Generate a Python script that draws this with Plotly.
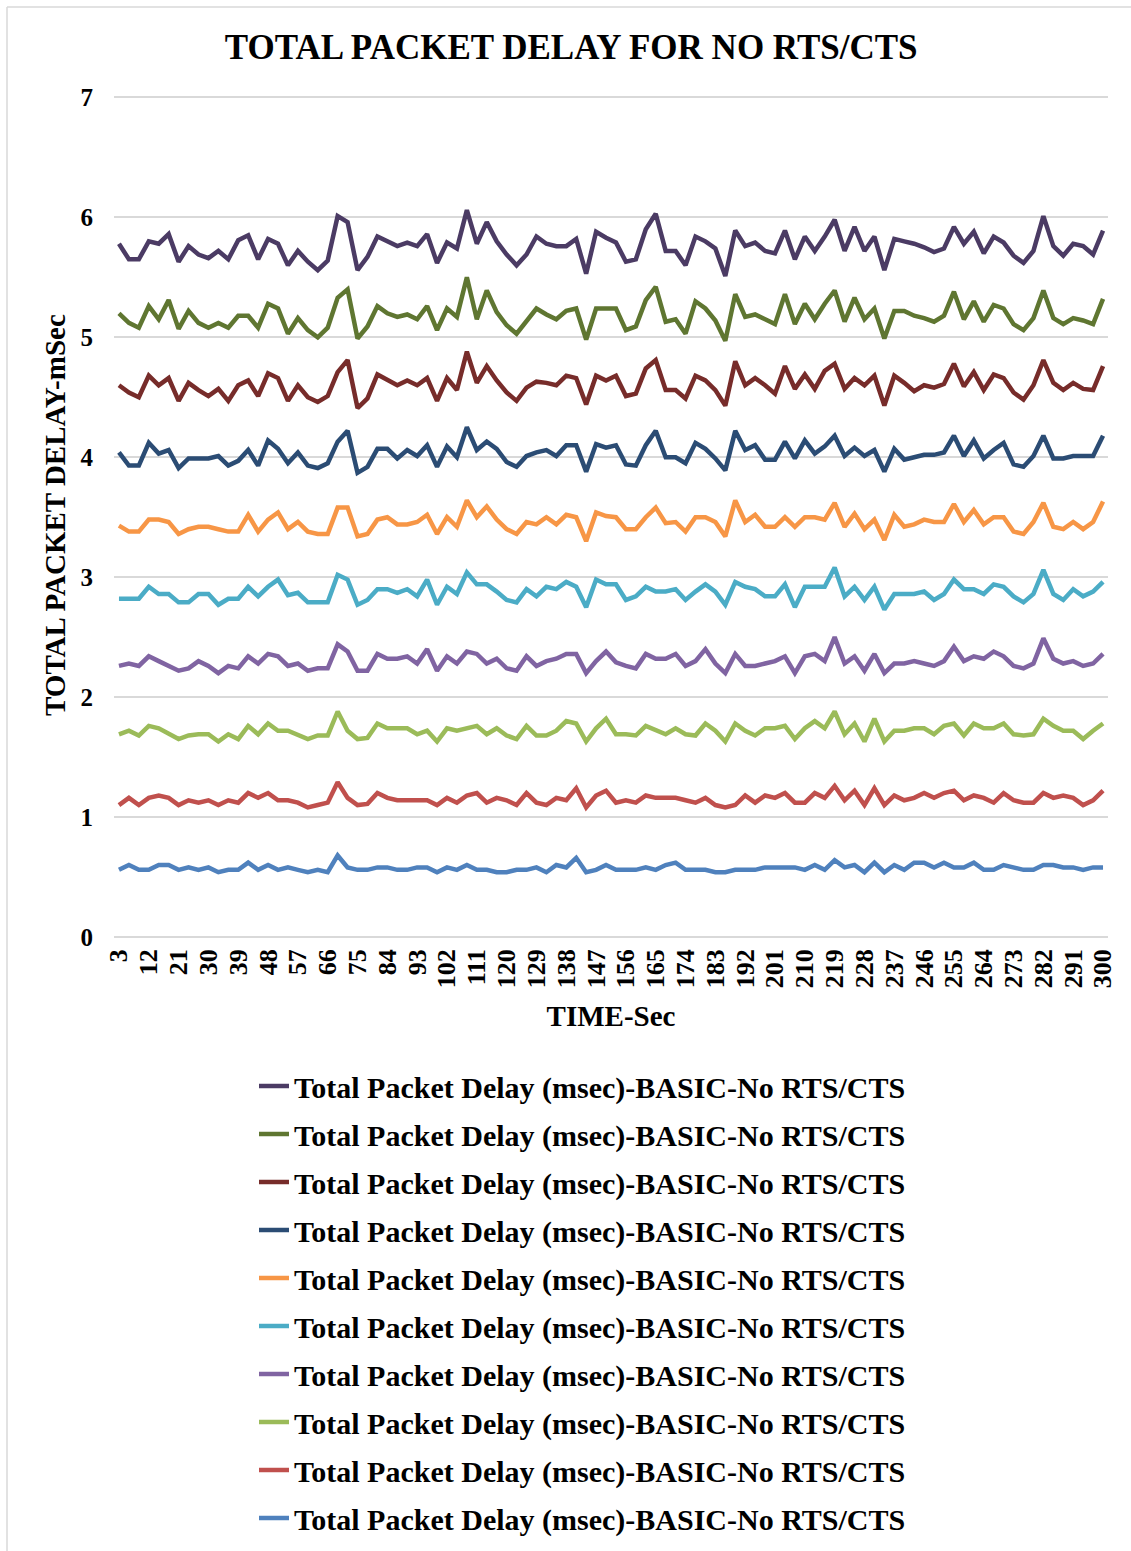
import plotly.graph_objects as go

# Simulation time (sec), one sample every 3 s
time_sec = list(range(3, 303, 3))
tick_labels = [str(t) for t in time_sec[::3]]

series_name = "Total Packet Delay (msec)-BASIC-No RTS/CTS"

delay_1 = [5.78, 5.65, 5.65, 5.80, 5.78, 5.86, 5.63, 5.76, 5.69, 5.66, 5.72, 5.65, 5.81, 5.85, 5.65, 5.82, 5.78, 5.60, 5.72, 5.63, 5.56, 5.64, 6.01, 5.96, 5.56,
           5.67, 5.84, 5.80, 5.76, 5.79, 5.76, 5.86, 5.62, 5.79, 5.74, 6.06, 5.78, 5.96, 5.80, 5.69, 5.60, 5.69, 5.84, 5.78, 5.76, 5.76, 5.82, 5.53, 5.88, 5.83,
           5.79, 5.63, 5.65, 5.90, 6.03, 5.72, 5.72, 5.60, 5.84, 5.80, 5.74, 5.51, 5.89, 5.76, 5.79, 5.72, 5.70, 5.89, 5.65, 5.84, 5.72, 5.84, 5.98, 5.72, 5.92,
           5.72, 5.84, 5.56, 5.82, 5.80, 5.78, 5.75, 5.71, 5.74, 5.92, 5.78, 5.88, 5.70, 5.84, 5.79, 5.68, 5.62, 5.72, 6.01, 5.76, 5.68, 5.78, 5.76, 5.69, 5.89]

delay_2 = [5.20, 5.12, 5.08, 5.26, 5.15, 5.31, 5.07, 5.22, 5.12, 5.08, 5.12, 5.08, 5.18, 5.18, 5.08, 5.28, 5.24, 5.03, 5.16, 5.06, 5.00, 5.08, 5.33, 5.40, 4.99,
           5.09, 5.26, 5.20, 5.17, 5.19, 5.15, 5.26, 5.06, 5.24, 5.17, 5.50, 5.15, 5.39, 5.21, 5.10, 5.03, 5.14, 5.24, 5.19, 5.15, 5.22, 5.24, 4.98, 5.24, 5.24,
           5.24, 5.06, 5.09, 5.31, 5.42, 5.13, 5.15, 5.03, 5.30, 5.24, 5.14, 4.97, 5.36, 5.17, 5.19, 5.15, 5.11, 5.36, 5.11, 5.28, 5.15, 5.28, 5.39, 5.13, 5.33,
           5.15, 5.24, 4.99, 5.22, 5.22, 5.18, 5.16, 5.13, 5.18, 5.38, 5.15, 5.30, 5.13, 5.27, 5.24, 5.11, 5.06, 5.16, 5.39, 5.16, 5.11, 5.16, 5.14, 5.11, 5.32]

delay_3 = [4.60, 4.54, 4.50, 4.68, 4.60, 4.66, 4.47, 4.62, 4.56, 4.51, 4.57, 4.47, 4.60, 4.64, 4.51, 4.70, 4.66, 4.47, 4.60, 4.50, 4.46, 4.51, 4.71, 4.81, 4.41,
           4.49, 4.69, 4.64, 4.60, 4.64, 4.60, 4.66, 4.47, 4.66, 4.56, 4.88, 4.62, 4.76, 4.64, 4.54, 4.47, 4.58, 4.63, 4.62, 4.60, 4.68, 4.66, 4.44, 4.68, 4.64,
           4.68, 4.51, 4.53, 4.74, 4.81, 4.56, 4.56, 4.49, 4.68, 4.64, 4.56, 4.43, 4.80, 4.60, 4.66, 4.60, 4.53, 4.76, 4.57, 4.69, 4.57, 4.72, 4.78, 4.57, 4.66,
           4.60, 4.68, 4.43, 4.68, 4.62, 4.55, 4.60, 4.58, 4.61, 4.78, 4.59, 4.71, 4.56, 4.69, 4.66, 4.54, 4.48, 4.60, 4.81, 4.62, 4.56, 4.62, 4.57, 4.56, 4.76]

delay_4 = [4.04, 3.93, 3.93, 4.12, 4.03, 4.06, 3.91, 3.99, 3.99, 3.99, 4.01, 3.93, 3.97, 4.06, 3.93, 4.14, 4.07, 3.95, 4.04, 3.93, 3.91, 3.95, 4.13, 4.22, 3.87,
           3.92, 4.07, 4.07, 3.99, 4.06, 4.01, 4.10, 3.92, 4.09, 4.00, 4.25, 4.06, 4.13, 4.07, 3.96, 3.92, 4.01, 4.04, 4.06, 4.01, 4.10, 4.10, 3.88, 4.11, 4.08,
           4.10, 3.94, 3.93, 4.10, 4.22, 4.00, 4.00, 3.95, 4.12, 4.07, 3.99, 3.89, 4.22, 4.06, 4.10, 3.98, 3.98, 4.13, 3.99, 4.14, 4.03, 4.09, 4.18, 4.01, 4.08,
           4.01, 4.06, 3.88, 4.07, 3.98, 4.00, 4.02, 4.02, 4.04, 4.18, 4.01, 4.14, 3.99, 4.06, 4.12, 3.94, 3.92, 4.01, 4.18, 3.99, 3.99, 4.01, 4.01, 4.01, 4.18]

delay_5 = [3.43, 3.38, 3.38, 3.48, 3.48, 3.46, 3.36, 3.40, 3.42, 3.42, 3.40, 3.38, 3.38, 3.52, 3.38, 3.48, 3.54, 3.40, 3.46, 3.38, 3.36, 3.36, 3.58, 3.58, 3.34,
           3.36, 3.48, 3.50, 3.44, 3.44, 3.46, 3.52, 3.36, 3.50, 3.42, 3.64, 3.50, 3.59, 3.48, 3.40, 3.36, 3.46, 3.44, 3.50, 3.44, 3.52, 3.50, 3.30, 3.54, 3.51,
           3.50, 3.40, 3.40, 3.50, 3.58, 3.45, 3.46, 3.38, 3.50, 3.50, 3.46, 3.34, 3.64, 3.46, 3.52, 3.42, 3.42, 3.50, 3.42, 3.50, 3.50, 3.48, 3.62, 3.42, 3.53,
           3.40, 3.48, 3.31, 3.52, 3.42, 3.44, 3.48, 3.46, 3.46, 3.61, 3.46, 3.56, 3.44, 3.50, 3.50, 3.38, 3.36, 3.46, 3.62, 3.42, 3.40, 3.46, 3.40, 3.46, 3.63]

delay_6 = [2.82, 2.82, 2.82, 2.92, 2.86, 2.86, 2.79, 2.79, 2.86, 2.86, 2.77, 2.82, 2.82, 2.92, 2.84, 2.92, 2.98, 2.85, 2.87, 2.79, 2.79, 2.79, 3.02, 2.98, 2.77,
           2.81, 2.90, 2.90, 2.87, 2.90, 2.84, 2.98, 2.77, 2.92, 2.86, 3.04, 2.94, 2.94, 2.88, 2.81, 2.79, 2.90, 2.84, 2.92, 2.90, 2.96, 2.92, 2.75, 2.98, 2.94,
           2.94, 2.81, 2.84, 2.92, 2.88, 2.88, 2.90, 2.81, 2.88, 2.94, 2.88, 2.77, 2.96, 2.92, 2.90, 2.84, 2.84, 2.94, 2.75, 2.92, 2.92, 2.92, 3.08, 2.84, 2.92,
           2.81, 2.92, 2.73, 2.86, 2.86, 2.86, 2.88, 2.81, 2.86, 2.98, 2.90, 2.90, 2.86, 2.94, 2.92, 2.84, 2.79, 2.86, 3.06, 2.86, 2.81, 2.90, 2.84, 2.88, 2.96]

delay_7 = [2.26, 2.28, 2.26, 2.34, 2.30, 2.26, 2.22, 2.24, 2.30, 2.26, 2.20, 2.26, 2.24, 2.34, 2.28, 2.36, 2.34, 2.26, 2.28, 2.22, 2.24, 2.24, 2.44, 2.38, 2.22,
           2.22, 2.36, 2.32, 2.32, 2.34, 2.28, 2.40, 2.22, 2.34, 2.28, 2.38, 2.36, 2.28, 2.32, 2.24, 2.22, 2.34, 2.26, 2.30, 2.32, 2.36, 2.36, 2.20, 2.30, 2.38,
           2.29, 2.26, 2.24, 2.36, 2.32, 2.32, 2.36, 2.26, 2.30, 2.40, 2.28, 2.20, 2.36, 2.26, 2.26, 2.28, 2.30, 2.34, 2.20, 2.34, 2.36, 2.30, 2.50, 2.28, 2.34,
           2.22, 2.36, 2.20, 2.28, 2.28, 2.30, 2.28, 2.26, 2.30, 2.42, 2.30, 2.34, 2.32, 2.38, 2.34, 2.26, 2.24, 2.28, 2.49, 2.32, 2.28, 2.30, 2.26, 2.28, 2.36]

delay_8 = [1.69, 1.72, 1.68, 1.76, 1.74, 1.69, 1.65, 1.68, 1.69, 1.69, 1.63, 1.69, 1.65, 1.76, 1.69, 1.78, 1.72, 1.72, 1.68, 1.65, 1.68, 1.68, 1.88, 1.72, 1.65,
           1.66, 1.78, 1.74, 1.74, 1.74, 1.69, 1.72, 1.63, 1.74, 1.72, 1.74, 1.76, 1.69, 1.74, 1.68, 1.65, 1.76, 1.68, 1.68, 1.72, 1.80, 1.78, 1.63, 1.74, 1.82,
           1.69, 1.69, 1.68, 1.76, 1.72, 1.69, 1.74, 1.69, 1.68, 1.78, 1.72, 1.63, 1.78, 1.72, 1.68, 1.74, 1.74, 1.76, 1.65, 1.74, 1.80, 1.74, 1.88, 1.69, 1.78,
           1.63, 1.82, 1.63, 1.72, 1.72, 1.74, 1.74, 1.69, 1.76, 1.78, 1.68, 1.78, 1.74, 1.74, 1.78, 1.69, 1.68, 1.69, 1.82, 1.76, 1.72, 1.72, 1.65, 1.72, 1.78]

delay_9 = [1.10, 1.16, 1.10, 1.16, 1.18, 1.16, 1.10, 1.14, 1.12, 1.14, 1.10, 1.14, 1.12, 1.20, 1.16, 1.20, 1.14, 1.14, 1.12, 1.08, 1.10, 1.12, 1.29, 1.16, 1.10,
           1.11, 1.20, 1.16, 1.14, 1.14, 1.14, 1.14, 1.10, 1.16, 1.12, 1.18, 1.20, 1.12, 1.16, 1.14, 1.10, 1.20, 1.12, 1.10, 1.16, 1.14, 1.24, 1.08, 1.18, 1.22,
           1.12, 1.14, 1.12, 1.18, 1.16, 1.16, 1.16, 1.14, 1.12, 1.16, 1.10, 1.08, 1.10, 1.18, 1.12, 1.18, 1.16, 1.20, 1.12, 1.12, 1.20, 1.16, 1.26, 1.14, 1.22,
           1.10, 1.24, 1.10, 1.18, 1.14, 1.16, 1.20, 1.16, 1.20, 1.22, 1.14, 1.18, 1.16, 1.12, 1.20, 1.14, 1.12, 1.12, 1.20, 1.16, 1.18, 1.16, 1.10, 1.14, 1.22]

delay_10 = [0.56, 0.60, 0.56, 0.56, 0.60, 0.60, 0.56, 0.58, 0.56, 0.58, 0.54, 0.56, 0.56, 0.62, 0.56, 0.60, 0.56, 0.58, 0.56, 0.54, 0.56, 0.54, 0.68, 0.58, 0.56,
            0.56, 0.58, 0.58, 0.56, 0.56, 0.58, 0.58, 0.54, 0.58, 0.56, 0.60, 0.56, 0.56, 0.54, 0.54, 0.56, 0.56, 0.58, 0.54, 0.60, 0.58, 0.66, 0.54, 0.56, 0.60,
            0.56, 0.56, 0.56, 0.58, 0.56, 0.60, 0.62, 0.56, 0.56, 0.56, 0.54, 0.54, 0.56, 0.56, 0.56, 0.58, 0.58, 0.58, 0.58, 0.56, 0.60, 0.56, 0.64, 0.58, 0.60,
            0.54, 0.62, 0.54, 0.60, 0.56, 0.62, 0.62, 0.58, 0.62, 0.58, 0.58, 0.62, 0.56, 0.56, 0.60, 0.58, 0.56, 0.56, 0.60, 0.60, 0.58, 0.58, 0.56, 0.58, 0.58]

all_series = [delay_1, delay_2, delay_3, delay_4, delay_5,
              delay_6, delay_7, delay_8, delay_9, delay_10]
line_colors = ["#4B3B64", "#5F7631", "#772C2A", "#2B4C74", "#F79646",
               "#4BACC6", "#8064A2", "#9BBB59", "#C0504D", "#4F81BD"]

FONT = "Liberation Serif"
W, H = 1131, 1551
L, R, T, B = 114, 23, 95, 614
PLOT_W, PLOT_H = W - L - R, H - T - B

fig = go.Figure()
for k, (vals, col) in enumerate(zip(all_series, line_colors)):
    fig.add_trace(go.Scatter(
        x=time_sec, y=vals, mode="lines", name=series_name,
        legendgroup=f"g{k}",
        line=dict(color=col, width=4.5),
    ))

fig.update_layout(
    width=W, height=H,
    margin=dict(l=L, r=R, t=T, b=B, autoexpand=False),
    paper_bgcolor="white", plot_bgcolor="white",
    font=dict(family=FONT, color="black", weight="bold"),
    title=dict(text="TOTAL PACKET DELAY FOR NO RTS/CTS",
               font=dict(family=FONT, size=35, color="black", weight="bold"),
               x=0.505, xanchor="center", y=1 - 47 / H, yanchor="middle"),
    showlegend=True,
    legend=dict(orientation="v",
                xref="container", x=254 / W, xanchor="left",
                yref="container", y=1 - 1060 / H, yanchor="top",
                traceorder="grouped", tracegroupgap=6,
                font=dict(family=FONT, size=30, color="black", weight="bold"),
                bgcolor="rgba(0,0,0,0)"),
)

fig.update_xaxes(
    range=[1.5, 301.5], tickmode="array",
    tickvals=time_sec[::3], ticktext=tick_labels, tickangle=-90,
    showgrid=False, zeroline=False, showline=False, ticks="",
    ticklabelstandoff=6, automargin=True,
    tickfont=dict(family=FONT, size=26, color="black", weight="bold"),
    title=dict(text="TIME-Sec", standoff=18,
               font=dict(family=FONT, size=29, color="black", weight="bold")),
)
fig.update_yaxes(
    range=[0, 7.02], dtick=1, tick0=0,
    showgrid=True, gridcolor="#D9D9D9", gridwidth=1.5,
    zeroline=True, zerolinecolor="#D9D9D9", zerolinewidth=1.5,
    showline=False, ticks="", ticklabelstandoff=20, automargin=True,
    tickfont=dict(family=FONT, size=25, color="black", weight="bold"),
)

# Vertical axis title
fig.add_annotation(
    text="TOTAL PACKET DELAY-mSec", textangle=-90,
    xref="paper", yref="paper", x=(55 - L) / PLOT_W, y=(H - B - 515) / PLOT_H,
    xanchor="center", yanchor="middle", showarrow=False,
    font=dict(family=FONT, size=29, color="black", weight="bold"),
)

# Chart-area frame edges (top and left)
fx0 = (7 - L) / PLOT_W
fx1 = (W - L) / PLOT_W
fy0 = (H - B - 7) / PLOT_H
fy1 = (H - B - H) / PLOT_H
fig.add_shape(type="line", xref="paper", yref="paper",
              x0=fx0, x1=fx1, y0=fy0, y1=fy0,
              line=dict(color="#D9D9D9", width=1.5))
fig.add_shape(type="line", xref="paper", yref="paper",
              x0=fx0, x1=fx0, y0=fy0, y1=fy1,
              line=dict(color="#D9D9D9", width=1.5))

fig.write_html("out.html")
